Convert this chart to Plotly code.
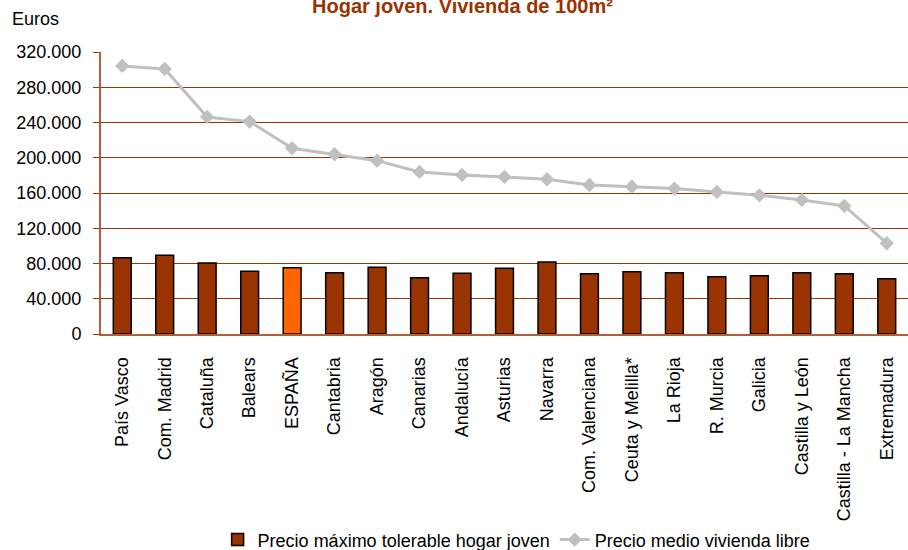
import plotly.graph_objects as go

categories = ["País Vasco", "Com. Madrid", "Cataluña", "Balears", "ESPAÑA", "Cantabria",
              "Aragón", "Canarias", "Andalucía", "Asturias", "Navarra", "Com. Valenciana",
              "Ceuta y Melilla*", "La Rioja", "R. Murcia", "Galicia", "Castilla y León",
              "Castilla - La Mancha", "Extremadura"]
precio_tolerable = [86600, 89300, 80600, 71200, 75300, 69600, 75700, 63900, 68900, 74600,
                    81700, 68500, 70700, 69600, 65000, 66200, 69600, 68500, 62800]
precio_medio = [304200, 300800, 246300, 241000, 210800, 204000, 196700, 183900, 180500, 178200,
                175600, 169100, 167200, 165000, 161200, 157400, 152100, 145300, 103000]
y_ticks = [0, 40000, 80000, 120000, 160000, 200000, 240000, 280000, 320000]

BROWN = "#993300"
bar_colors = ["#FF6600" if c == "ESPAÑA" else BROWN for c in categories]
FONT = "Liberation Sans, Arial, sans-serif"

fig = go.Figure()
fig.add_trace(go.Bar(
    x=categories, y=precio_tolerable, name="Precio máximo tolerable hogar joven",
    marker=dict(color=bar_colors, line=dict(color="#000000", width=1.5)),
))
fig.add_trace(go.Scatter(
    x=categories, y=precio_medio, name="Precio medio vivienda libre", mode="lines+markers",
    line=dict(color="#C0C0C0", width=3),
    marker=dict(symbol="diamond", size=11, color="#C0C0C0"),
))

fig.update_layout(
    width=908, height=550,
    margin=dict(l=101, r=0, t=52, b=216, autoexpand=False),
    paper_bgcolor="white", plot_bgcolor="white",
    separators=",.",
    font=dict(family=FONT, size=18, color="#000000"),
    bargap=0.58,
    showlegend=True,
    legend=dict(orientation="h", x=0.515, xanchor="center", y=-0.73, yanchor="middle",
                font=dict(size=18), itemwidth=30, tracegroupgap=0),
    annotations=[
        dict(text="<b>Hogar joven. Vivienda de 100m²</b>", xref="paper", yref="paper",
             x=(462 - 101) / 807, y=(334 - 19) / 282, xanchor="center", yanchor="bottom",
             showarrow=False, font=dict(family=FONT, size=20, color=BROWN)),
        dict(text="Euros", xref="paper", yref="paper", x=-91/807, y=(334 - 19) / 282,
             xanchor="left", yanchor="middle", showarrow=False,
             font=dict(family=FONT, size=18, color="#000000")),
    ],
)
fig.update_yaxes(
    range=[0, 320000], tickvals=y_ticks, tickformat=",d", automargin=False,
    showgrid=True, gridcolor=BROWN, gridwidth=1,
    showline=True, linecolor="#B0603A", linewidth=2,
    ticks="outside", ticklen=6, tickcolor=BROWN, ticklabelstandoff=8,
    zeroline=False,
)
fig.update_xaxes(
    range=[-0.5, len(categories) - 0.5],
    tickangle=-90, showline=True, linecolor="#B0603A", linewidth=2, automargin=False,
    ticks="", ticklabelstandoff=14, showgrid=False,
)

fig.write_html("out.html", config={"displayModeBar": False},
               post_script="document.body.style.margin='0px';")
